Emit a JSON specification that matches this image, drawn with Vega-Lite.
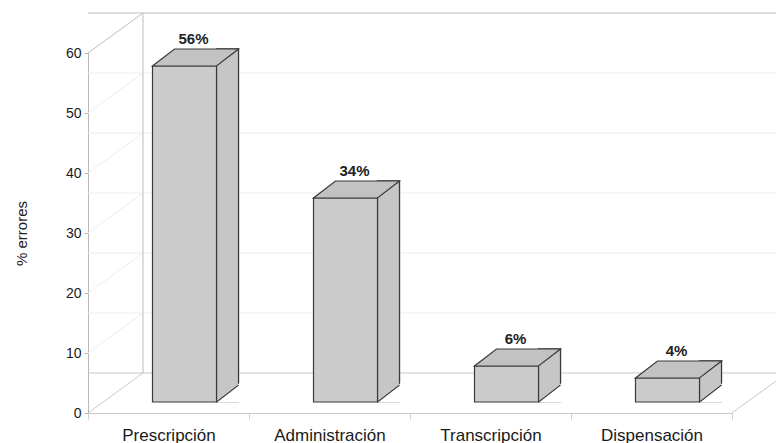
{
  "$schema": "https://vega.github.io/schema/vega-lite/v6.json",
  "width": 644,
  "height": 360,
  "autosize": "none",
  "padding": {"left": 88, "top": 53, "right": 44, "bottom": 30},
  "background": "white",
  "config": {"view": {"stroke": null}, "font": "Liberation Sans"},
  "datasets": {
    "errores": [
      {"etapa": "Prescripción", "pct": 56, "etiqueta": "56%"},
      {"etapa": "Administración", "pct": 34, "etiqueta": "34%"},
      {"etapa": "Transcripción", "pct": 6, "etiqueta": "6%"},
      {"etapa": "Dispensación", "pct": 4, "etiqueta": "4%"}
    ],
    "grid": [{"v": 10}, {"v": 20}, {"v": 30}, {"v": 40}, {"v": 50}],
    "marco": [{}]
  },
  "resolve": {"scale": {"x": "shared", "y": "shared"}},
  "layer": [
    {
      "data": {"name": "errores"},
      "mark": {"type": "bar", "width": 22, "xOffset": 59, "yOffset": -28, "y2Offset": -11, "fill": "#c6c6c6", "stroke": "#3a3a3a", "strokeWidth": 1.2},
      "encoding": {
        "x": {"field": "etapa", "type": "nominal", "sort": null,
          "scale": {"domain": ["Prescripción", "Administración", "Transcripción", "Dispensación"], "paddingInner": 0, "paddingOuter": 0},
          "axis": {"title": null, "labelAngle": 0, "labelFontSize": 17, "labelColor": "#1a1a1a", "labelPadding": 8,
            "bandPosition": 0.5, "labelAlign": "center",
            "tickBand": "extent", "tickSize": 6, "tickColor": "#d0d0d0", "domainColor": "#c8c8c8", "labelFont": "Liberation Sans"}},
        "y": {"field": "pct", "type": "quantitative", "scale": {"domain": [0, 60], "nice": false},
          "axis": {"title": "% errores", "values": [0, 10, 20, 30, 40, 50, 60], "grid": false,
            "labelFontSize": 14, "labelColor": "#1a1a1a", "tickSize": 4, "tickColor": "#b8b8b8",
            "domainColor": "#b8b8b8", "labelPadding": 3, "titleFontSize": 15, "titleFontWeight": "normal",
            "titleColor": "#222222", "titlePadding": 36, "titleFont": "Liberation Sans", "labelFont": "Liberation Sans"}},
        "y2": {"datum": 0}
      }
    },
    {
      "data": {"name": "grid"},
      "mark": {"type": "rule", "color": "#ececec", "strokeWidth": 1, "xOffset": 55, "yOffset": -40},
      "encoding": {
        "y": {"field": "v", "type": "quantitative"}
      }
    },
    {
      "data": {"name": "grid"},
      "mark": {"type": "point", "shape": "M0,0 L55,-40", "size": 4, "filled": false, "stroke": "#ececec", "strokeWidth": 1, "opacity": 1},
      "encoding": {
        "x": {"datum": "Prescripción", "bandPosition": 0, "type": "nominal"},
        "y": {"field": "v", "type": "quantitative"}
      }
    },
    {
      "data": {"name": "marco"},
      "mark": {"type": "rule", "color": "#bdbdbd", "strokeWidth": 1, "xOffset": 55, "yOffset": -40},
      "encoding": {"y": {"datum": 60, "type": "quantitative"}}
    },
    {
      "data": {"name": "marco"},
      "mark": {"type": "rule", "color": "#c8c8c8", "strokeWidth": 1, "xOffset": 55, "yOffset": -40},
      "encoding": {"y": {"datum": 0, "type": "quantitative"}}
    },
    {
      "data": {"name": "marco"},
      "mark": {"type": "rule", "color": "#bdbdbd", "strokeWidth": 1, "xOffset": 55, "yOffset": -40, "y2Offset": -40},
      "encoding": {
        "x": {"datum": "Prescripción", "bandPosition": 0, "type": "nominal"},
        "y": {"datum": 0, "type": "quantitative"},
        "y2": {"datum": 60}
      }
    },
    {
      "data": {"name": "marco"},
      "mark": {"type": "point", "shape": "M0,0 L55,-40", "size": 4, "filled": false, "stroke": "#bdbdbd", "strokeWidth": 1, "opacity": 1},
      "encoding": {
        "x": {"datum": "Prescripción", "bandPosition": 0, "type": "nominal"},
        "y": {"datum": 60, "type": "quantitative"}
      }
    },
    {
      "data": {"name": "marco"},
      "mark": {"type": "point", "shape": "M0,0 L55,-40", "size": 4, "filled": false, "stroke": "#c8c8c8", "strokeWidth": 1, "opacity": 1},
      "encoding": {
        "x": {"datum": "Prescripción", "bandPosition": 0, "type": "nominal"},
        "y": {"datum": 0, "type": "quantitative"}
      }
    },
    {
      "data": {"name": "marco"},
      "mark": {"type": "point", "shape": "M0,0 L55,-40", "size": 4, "filled": false, "stroke": "#c8c8c8", "strokeWidth": 1, "opacity": 1},
      "encoding": {
        "x": {"datum": "Dispensación", "bandPosition": 1, "type": "nominal"},
        "y": {"datum": 0, "type": "quantitative"}
      }
    },
    {
      "data": {"name": "errores"},
      "mark": {"type": "bar", "width": 22, "xOffset": 59, "yOffset": -28, "y2Offset": -11, "fill": "#c6c6c6", "stroke": "#3a3a3a", "strokeWidth": 1.2},
      "encoding": {
        "x": {"field": "etapa", "type": "nominal", "sort": null},
        "y": {"field": "pct", "type": "quantitative"},
        "y2": {"datum": 0}
      }
    },
    {
      "data": {"name": "errores"},
      "mark": {"type": "point", "shape": "M48,-11 L71,-11 L71,-29 Z", "size": 4, "filled": true, "fill": "white", "stroke": "white", "strokeWidth": 1.5, "opacity": 1},
      "encoding": {
        "x": {"field": "etapa", "type": "nominal", "sort": null},
        "y": {"datum": 0, "type": "quantitative"}
      }
    },
    {
      "data": {"name": "errores"},
      "mark": {"type": "bar", "width": 64, "xOffset": 16, "yOffset": -11, "y2Offset": -11, "fill": "#cccccc", "stroke": "#3a3a3a", "strokeWidth": 1.2},
      "encoding": {
        "x": {"field": "etapa", "type": "nominal", "sort": null},
        "y": {"field": "pct", "type": "quantitative"},
        "y2": {"datum": 0}
      }
    },
    {
      "data": {"name": "errores"},
      "mark": {"type": "point", "shape": "M-16,-11 L48,-11 L70,-28 L6,-28 Z", "size": 4, "filled": true, "fill": "#c2c2c2", "stroke": "#3a3a3a", "strokeWidth": 1.2, "opacity": 1},
      "encoding": {
        "x": {"field": "etapa", "type": "nominal", "sort": null},
        "y": {"field": "pct", "type": "quantitative"}
      }
    },
    {
      "data": {"name": "errores"},
      "mark": {"type": "point", "shape": "M48,-11 L70,-28", "size": 4, "filled": false, "stroke": "#3a3a3a", "strokeWidth": 1.2, "opacity": 1},
      "encoding": {
        "x": {"field": "etapa", "type": "nominal", "sort": null},
        "y": {"datum": 0, "type": "quantitative"}
      }
    },
    {
      "data": {"name": "errores"},
      "mark": {"type": "text", "fontWeight": "bold", "fontSize": 15, "xOffset": 25, "yOffset": -33, "baseline": "alphabetic", "align": "center", "color": "#222222", "font": "Liberation Sans"},
      "encoding": {
        "x": {"field": "etapa", "type": "nominal", "sort": null},
        "y": {"field": "pct", "type": "quantitative"},
        "text": {"field": "etiqueta"}
      }
    }
  ]
}
